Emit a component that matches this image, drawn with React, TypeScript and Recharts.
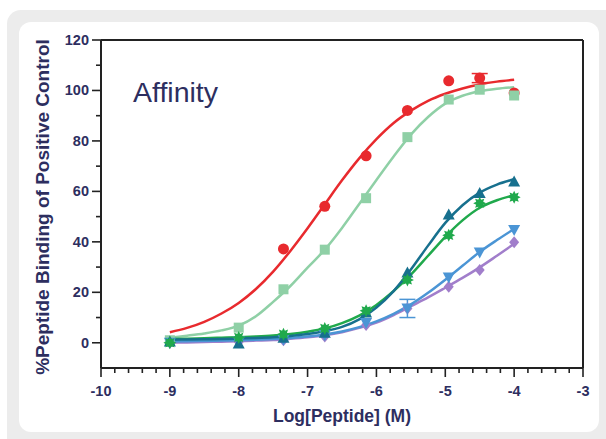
import React from 'react';
import {
  ComposedChart,
  Line,
  Scatter,
  XAxis,
  YAxis,
  Label,
  ErrorBar,
  ReferenceLine,
} from 'recharts';

// measured doses (log M)
const doses = [-9, -8, -7.35, -6.75, -6.15, -5.55, -4.95, -4.5, -4];

// observed points, % of positive control
const redPts = [null, null, 37.2, 54.1, 74.1, 92.1, 103.8, 104.9, 99];
const redErr = [0, 0, 0, 0, 0, 0, 0, 1.8, 0];
const mintPts = [1, 6, 21.2, 36.9, 57.3, 81.5, 96.4, 100.3, 98];
const tealPts = [0.5, -0.3, 2, 4, 12, 27.9, 50.8, 59.4, 63.9];
const greenPts = [0, 2.1, 3.4, 5.7, 12.7, 24.9, 42.6, 55.3, 57.7];
const bluePts = [0, 0.5, 1.2, 3, 7.8, 13.6, 25.9, 35.8, 44.7];
const blueErr = [0, 0, 0, 0, 0, 3.6, 0, 0, 0];
const purplePts = [0, 0.3, 1, 2.5, 7, 13.6, 22.2, 28.8, 39.8];

// fitted curves, every 0.25 log unit
const fitX = [
  -9, -8.75, -8.5, -8.25, -8, -7.75, -7.5, -7.25, -7, -6.75, -6.5,
  -6.25, -6, -5.75, -5.5, -5.25, -5, -4.75, -4.5, -4.25, -4,
];
const redFit = [4.2, 5.9, 8.3, 11.6, 15.8, 21.3, 28.2, 36.4, 45.4, 54.9, 64.4, 73.1, 80.7, 87.1, 92, 95.9, 98.7, 100.8, 102.4, 103.5, 104.2];
const mintFit = [2, 2.8, 3.7, 4.9, 6.8, 10.5, 16.2, 22.5, 29.8, 36.9, 45.5, 55, 64.5, 73.8, 82.5, 89.5, 94.8, 97.9, 99.7, 100.7, 101.3];
const tealFit = [1.2, 1.3, 1.4, 1.5, 1.7, 1.9, 2.2, 2.7, 3.5, 4.6, 6.3, 9.3, 14, 20.5, 29, 38.5, 47.5, 54.5, 59.5, 62.7, 64.8];
const greenFit = [1.5, 1.6, 1.8, 2, 2.2, 2.5, 2.9, 3.5, 4.4, 5.7, 7.8, 10.8, 15, 20.5, 27, 34.5, 42, 48.5, 53.5, 56.5, 58.5];
const blueFit = [0.5, 0.6, 0.7, 0.85, 1, 1.2, 1.5, 1.9, 2.5, 3.3, 4.5, 6.2, 8.5, 11.5, 15.2, 19.8, 25, 30.5, 36, 40.7, 45.1];
const purpleFit = [0, 0.15, 0.3, 0.45, 0.6, 0.85, 1.1, 1.6, 2.2, 3, 4.2, 5.9, 8, 11, 14.5, 18, 21.8, 25.7, 29.9, 34.5, 39.2];

const xTicks = [
  -10, -9.8, -9.6, -9.4, -9.2, -9, -8.8, -8.6, -8.4, -8.2, -8, -7.8, -7.6, -7.4, -7.2,
  -7, -6.8, -6.6, -6.4, -6.2, -6, -5.8, -5.6, -5.4, -5.2, -5, -4.8, -4.6, -4.4, -4.2,
  -4, -3.8, -3.6, -3.4, -3.2, -3,
];
const yTicks = [0, 10, 20, 30, 40, 50, 60, 70, 80, 90, 100, 110, 120];

const NAVY = '#2d2e5f';
const AXIS = '#222';
const FONT = '"Liberation Sans", Arial, sans-serif';

const COLORS = {
  red: '#e82a2e',
  mint: '#8fd0a6',
  teal: '#17708e',
  green: '#20a94c',
  blue: '#4b95d5',
  purple: '#a17ecb',
};

const toPts = (vals: (number | null)[], errs?: number[]) =>
  doses
    .map((x, i) => ({ x, y: vals[i], err: errs ? errs[i] : 0 }))
    .filter((p) => p.y !== null);

const toFit = (vals: number[]) => fitX.map((x, i) => ({ x, y: vals[i] }));

const XTick = (props: any) => {
  const { x, y, payload } = props;
  const v = payload.value;
  const major = Math.abs(v - Math.round(v)) < 1e-6;
  return (
    <g>
      <line x1={x} x2={x} y1={y} y2={y + (major ? 9 : 5)} stroke={AXIS} strokeWidth={1.6} />
      {major && (
        <text x={x} y={y + 28} textAnchor="middle" fill={NAVY} fontSize={14.5} fontWeight="bold" fontFamily={FONT}>
          {Math.round(v)}
        </text>
      )}
    </g>
  );
};

const YTick = (props: any) => {
  const { x, y, payload } = props;
  const v = payload.value;
  const major = v % 20 === 0;
  return (
    <g>
      <line x1={x} x2={x - (major ? 9 : 5)} y1={y} y2={y} stroke={AXIS} strokeWidth={1.6} />
      {major && (
        <text x={x - 12} y={y + 5} textAnchor="end" fill={NAVY} fontSize={14.5} fontWeight="bold" fontFamily={FONT}>
          {v}
        </text>
      )}
    </g>
  );
};

const marker = (kind: string, color: string) => (props: any) => {
  const { cx, cy } = props;
  if (cx == null || cy == null) return <g />;
  switch (kind) {
    case 'circle':
      return <circle cx={cx} cy={cy} r={5.5} fill={color} />;
    case 'square':
      return <rect x={cx - 5} y={cy - 5} width={10} height={10} fill={color} />;
    case 'up':
      return <polygon points={`${cx},${cy - 6} ${cx + 6},${cy + 5} ${cx - 6},${cy + 5}`} fill={color} />;
    case 'down':
      return <polygon points={`${cx},${cy + 6} ${cx + 6},${cy - 5} ${cx - 6},${cy - 5}`} fill={color} />;
    case 'diamond':
      return <polygon points={`${cx},${cy - 6} ${cx + 5},${cy} ${cx},${cy + 6} ${cx - 5},${cy}`} fill={color} />;
    default: {
      const pts: string[] = [];
      for (let i = 0; i < 16; i++) {
        const r = i % 2 === 0 ? 6.5 : 3.8;
        const a = (Math.PI * i) / 8;
        pts.push(`${cx + r * Math.sin(a)},${cy - r * Math.cos(a)}`);
      }
      return <polygon points={pts.join(' ')} fill={color} />;
    }
  }
};

const fits = [
  { data: redFit, color: COLORS.red },
  { data: mintFit, color: COLORS.mint },
  { data: purpleFit, color: COLORS.purple },
  { data: blueFit, color: COLORS.blue },
  { data: greenFit, color: COLORS.green },
  { data: tealFit, color: COLORS.teal },
];

export default function App() {
  return (
    <div style={{ position: 'absolute', left: 0, top: 0, width: 606, height: 439, background: '#fff', overflow: 'hidden' }}>
      <div style={{ position: 'absolute', left: 7, top: 10, width: 640, height: 470, background: '#ececec', borderRadius: 14 }} />
      <div style={{ position: 'absolute', left: 19, top: 22, width: 580, height: 410, background: '#fff', borderRadius: 12 }} />
      <div style={{ position: 'absolute', left: 0, top: 0 }}>
        <ComposedChart width={606} height={439} margin={{ top: 40, right: 23, bottom: 0, left: 0 }}>
          <XAxis
            xAxisId="main"
            type="number"
            dataKey="x"
            domain={[-10, -3]}
            ticks={xTicks}
            interval={0}
            allowDataOverflow
            height={71}
            tickSize={0}
            tickMargin={0}
            tickLine={false}
            tick={<XTick />}
            axisLine={{ stroke: AXIS, strokeWidth: 2 }}
          >
            <Label
              value="Log[Peptide] (M)"
              position="center"
              dy={12}
              style={{ fill: NAVY, fontSize: 17.5, fontWeight: 'bold', fontFamily: FONT }}
            />
          </XAxis>
          <YAxis
            yAxisId="main"
            type="number"
            domain={[-10, 120]}
            ticks={yTicks}
            interval={0}
            allowDataOverflow
            width={101}
            tickSize={0}
            tickMargin={0}
            tickLine={false}
            tick={<YTick />}
            axisLine={{ stroke: AXIS, strokeWidth: 2 }}
          >
            <Label
              value="%Peptide Binding of Positive Control"
              position="center"
              angle={-90}
              dx={-8}
              dy={3}
              style={{ fill: NAVY, fontSize: 19, fontWeight: 'bold', fontFamily: FONT, textAnchor: 'middle' }}
            />
          </YAxis>

          <ReferenceLine xAxisId="main" yAxisId="main" y={120} stroke={AXIS} strokeWidth={2} />
          <ReferenceLine xAxisId="main" yAxisId="main" x={-3} stroke={AXIS} strokeWidth={2} />

          {fits.map((f, i) => (
            <Line
              key={`fit-${i}`}
              xAxisId="main"
              yAxisId="main"
              data={toFit(f.data)}
              dataKey="y"
              type="monotone"
              stroke={f.color}
              strokeWidth={2.5}
              dot={false}
              activeDot={false}
              isAnimationActive={false}
            />
          ))}

          <Scatter xAxisId="main" yAxisId="main" data={toPts(redPts, redErr)} dataKey="y" shape={marker('circle', COLORS.red)} isAnimationActive={false}>
            <ErrorBar dataKey="err" direction="y" width={8} stroke={COLORS.red} strokeWidth={1.5} />
          </Scatter>
          <Scatter xAxisId="main" yAxisId="main" data={toPts(mintPts)} dataKey="y" shape={marker('square', COLORS.mint)} isAnimationActive={false} />
          <Scatter xAxisId="main" yAxisId="main" data={toPts(purplePts)} dataKey="y" shape={marker('diamond', COLORS.purple)} isAnimationActive={false} />
          <Scatter xAxisId="main" yAxisId="main" data={toPts(bluePts, blueErr)} dataKey="y" shape={marker('down', COLORS.blue)} isAnimationActive={false}>
            <ErrorBar dataKey="err" direction="y" width={8} stroke={COLORS.blue} strokeWidth={1.5} />
          </Scatter>
          <Scatter xAxisId="main" yAxisId="main" data={toPts(tealPts)} dataKey="y" shape={marker('up', COLORS.teal)} isAnimationActive={false} />
          <Scatter xAxisId="main" yAxisId="main" data={toPts(greenPts)} dataKey="y" shape={marker('star', COLORS.green)} isAnimationActive={false} />
        </ComposedChart>
      </div>
      <div
        style={{
          position: 'absolute',
          left: 133,
          top: 78,
          fontFamily: FONT,
          fontSize: 28.5,
          lineHeight: 1,
          color: NAVY,
          whiteSpace: 'nowrap',
        }}
      >
        Affinity
      </div>
    </div>
  );
}
